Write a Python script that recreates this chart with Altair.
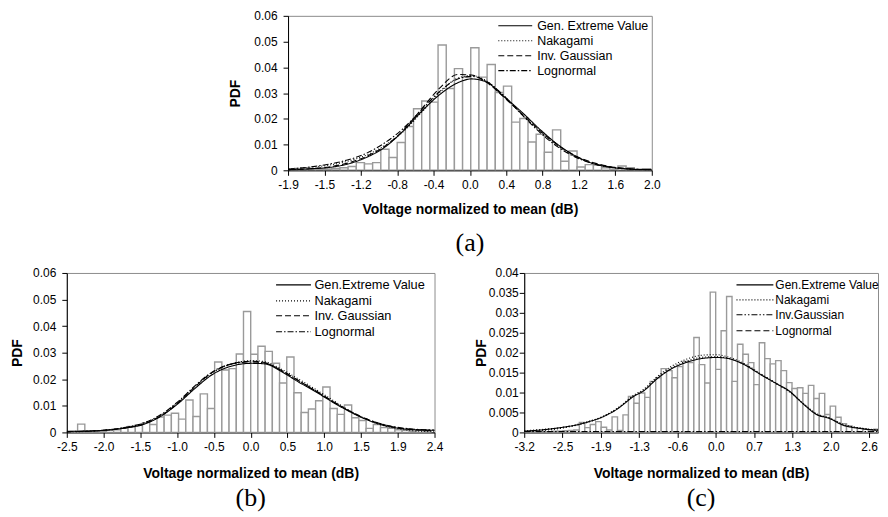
import json
import altair as alt
import pandas as pd

FONT = "Liberation Sans"
SERIF = "Liberation Serif"

# ---------------- panel (a) ----------------
A_BIN_START = -1.914
A_BIN_WIDTH = 0.0889
A_HIST = [0.0003, 0.0003, 0.0002, 0.0003, 0.0005, 0.0007, 0.001, 0.0015, 0.003, 0.0025,
          0.003, 0.0082, 0.005, 0.0108, 0.017, 0.0239, 0.0269, 0.0265, 0.0487, 0.0318,
          0.0395, 0.0362, 0.0476, 0.0362, 0.0411, 0.0302, 0.0327, 0.0187, 0.0201, 0.011,
          0.014, 0.007, 0.0157, 0.0035, 0.0075, 0.0013, 0.0022, 0.002, 0.001, 0.0004,
          0.0017, 0.001, 0.0004, 0.0006]
A_X = [-1.94, -1.7, -1.5, -1.3, -1.1, -0.9, -0.7, -0.5, -0.3, -0.1, 0.05, 0.2, 0.4, 0.6,
       0.8, 1.0, 1.2, 1.4, 1.6, 1.8, 2.01]
A_GEV = [0.0003, 0.0006, 0.0011, 0.0024, 0.0049, 0.0088, 0.015, 0.0226, 0.0293, 0.034, 0.0355,
         0.0345, 0.0287, 0.0225, 0.0157, 0.0097, 0.0052, 0.0023, 0.001, 0.0004, 0.0002]
A_NAK = [0.0006, 0.0012, 0.002, 0.0035, 0.0058, 0.0095, 0.0148, 0.0222, 0.03, 0.0358, 0.0368,
         0.035, 0.029, 0.0218, 0.015, 0.0092, 0.005, 0.0024, 0.001, 0.0004, 0.0001]
A_IG = [0.0002, 0.0006, 0.0013, 0.0028, 0.0053, 0.0092, 0.0152, 0.0235, 0.0318, 0.0372, 0.037,
        0.0345, 0.0285, 0.0218, 0.0152, 0.0095, 0.0053, 0.0027, 0.0012, 0.0005, 0.0002]
A_LN = [0.0005, 0.0013, 0.0024, 0.004, 0.0065, 0.0105, 0.016, 0.0232, 0.0305, 0.0355, 0.0365,
        0.0348, 0.029, 0.0215, 0.0145, 0.0088, 0.0048, 0.0024, 0.0011, 0.0005, 0.0002]
A_NAMES = ["Gen. Extreme Value", "Nakagami", "Inv. Gaussian", "Lognormal"]
A_TICK_LABELS = ["-1.9", "-1.5", "-1.2", "-0.8", "-0.4", "0.0", "0.4", "0.8", "1.2", "1.6", "2.0"]

# ---------------- panel (b) ----------------
B_BIN_START = -2.412
B_BIN_WIDTH = 0.0961
B_HIST = [0.0004, 0.0031, 0.0002, 0.0002, 0.0003, 0.0008, 0.001, 0.0015, 0.0022, 0.0028,
          0.0037, 0.003, 0.0058, 0.0065, 0.0072, 0.005, 0.0122, 0.006, 0.0145, 0.009,
          0.0265, 0.0235, 0.024, 0.0295, 0.0455, 0.0294, 0.0324, 0.0305, 0.026, 0.0186,
          0.0284, 0.0149, 0.0075, 0.0088, 0.0119, 0.0171, 0.009, 0.0068, 0.0103, 0.0055,
          0.0045, 0.0015, 0.003, 0.0018, 0.0015, 0.001, 0.0008, 0.0005, 0.0008, 0.0004]
B_X = [-2.46, -2.2, -1.95, -1.7, -1.45, -1.2, -0.97, -0.75, -0.53, -0.26, 0.0, 0.18, 0.4,
       0.62, 0.85, 1.07, 1.29, 1.51, 1.73, 1.95, 2.17, 2.44]
B_GEV = [0.0004, 0.0005, 0.0008, 0.0016, 0.0029, 0.0062, 0.011, 0.0166, 0.0216, 0.025, 0.026,
         0.0258, 0.0229, 0.0191, 0.0154, 0.0116, 0.0081, 0.0051, 0.0029, 0.0016, 0.001, 0.0008]
B_NAK = [0.0001, 0.0003, 0.0009, 0.0018, 0.0033, 0.0065, 0.0115, 0.0172, 0.0222, 0.0258, 0.027,
         0.0266, 0.0238, 0.0202, 0.0163, 0.0124, 0.0085, 0.0052, 0.0028, 0.0014, 0.0006, 0.0002]
B_IG = [0.0002, 0.0004, 0.0008, 0.0016, 0.0031, 0.0063, 0.0113, 0.0172, 0.0224, 0.0258, 0.0268,
        0.0262, 0.0233, 0.0196, 0.0157, 0.0119, 0.0083, 0.0053, 0.0032, 0.0018, 0.0011, 0.0007]
B_LN = [0.0003, 0.0005, 0.0009, 0.0018, 0.0034, 0.0068, 0.0118, 0.0176, 0.0226, 0.0258, 0.0265,
        0.0261, 0.0233, 0.0196, 0.0158, 0.0119, 0.0083, 0.0053, 0.0032, 0.0019, 0.0012, 0.0009]
B_NAMES = ["Gen.Extreme Value", "Nakagami", "Inv. Gaussian", "Lognormal"]
B_TICK_LABELS = ["-2.5", "-2.0", "-1.5", "-1.0", "-0.5", "0.0", "0.5", "1.0", "1.5", "1.9", "2.4"]

# ---------------- panel (c) ----------------
C_BIN_START = -3.18
C_BIN_WIDTH = 0.0918
C_HIST = [0.0001, 0.0001, 0.0002, 0.0002, 0.0002, 0.0003, 0.0003, 0.0004, 0.0005, 0.0006,
          0.0025, 0.0012, 0.002, 0.0027, 0.0013, 0.0006, 0.0039, 0.0005, 0.0044, 0.009,
          0.0073, 0.0099, 0.0088, 0.0128, 0.0137, 0.016, 0.0155, 0.0137, 0.0165, 0.0178,
          0.0175, 0.0238, 0.017, 0.0124, 0.0352, 0.0158, 0.0255, 0.0341, 0.0128, 0.0221,
          0.0196, 0.0175, 0.012, 0.0225, 0.0185, 0.0172, 0.018, 0.0155, 0.0125, 0.011,
          0.0112, 0.0098, 0.0118, 0.0085, 0.0098, 0.0045, 0.0066, 0.0038, 0.0022, 0.0016,
          0.0012, 0.001, 0.0008, 0.0006, 0.0008, 0.0009]
C_X = [-3.19, -2.85, -2.58, -2.3, -2.1, -1.9, -1.63, -1.34, -1.18, -0.95, -0.73, -0.45, -0.17,
       0.05, 0.22, 0.5, 0.78, 1.06, 1.28, 1.51, 1.73, 1.95, 2.18, 2.46, 2.8]
C_GEV = [0.0003, 0.0007, 0.0012, 0.0019, 0.0027, 0.0037, 0.0058, 0.0091, 0.0104, 0.0135, 0.0158,
         0.0176, 0.0186, 0.0188, 0.0186, 0.0171, 0.0146, 0.0122, 0.0103, 0.0071, 0.0045, 0.0035,
         0.0018, 0.001, 0.0005]
C_NAK = [0.0002, 0.0005, 0.001, 0.0018, 0.0026, 0.0037, 0.006, 0.0094, 0.0108, 0.014, 0.0164,
         0.0184, 0.0194, 0.0195, 0.019, 0.0174, 0.0148, 0.0123, 0.0102, 0.0072, 0.0046, 0.0036,
         0.002, 0.0011, 0.0004]
C_IG = [0.0004, 0.0008, 0.0012, 0.002, 0.0028, 0.0038, 0.0059, 0.0092, 0.0106, 0.0137, 0.016,
        0.0179, 0.0189, 0.019, 0.0187, 0.0172, 0.0147, 0.0121, 0.0101, 0.0072, 0.0047, 0.0036,
        0.002, 0.0011, 0.0006]
C_LN = [0.0002, 0.0002, 0.0002, 0.0002, 0.0002, 0.0002, 0.0002, 0.0002, 0.0002, 0.0002, 0.0002,
        0.0002, 0.0002, 0.0002, 0.0002, 0.0002, 0.0002, 0.0002, 0.0002, 0.0002, 0.0002, 0.0002,
        0.0002, 0.0002, 0.0002]
C_NAMES = ["Gen.Extreme Value", "Nakagami", "Inv.Gaussian", "Lognormal"]
C_TICK_LABELS = ["-3.2", "-2.5", "-1.9", "-1.3", "-0.6", "0.0", "0.7", "1.3", "2.0", "2.6"]

SOLID = [1, 0]
DOT = [1, 2]
DASH = [6, 3]
DASHDOT = [6, 2, 1.5, 2]
DASHDOTDOT = [6, 2, 1.5, 2, 1.5, 2]

XTITLE = "Voltage normalized to mean (dB)"


def panel(cfg):
    W, H = cfg["W"], cfg["H"]
    xmin, xmax = cfg["xdom"]
    step = cfg["tick_step"]
    labels = cfg["tick_labels"]
    ticks = [round(xmin + step * k, 4) for k in range(len(labels))]
    label_expr = f"{json.dumps(labels)}[round((datum.value - ({xmin})) / {step})]"

    xs = alt.Scale(domain=[xmin, xmax], nice=False, zero=False)
    ys = alt.Scale(domain=[0, cfg["ymax"]], nice=False)
    xaxis = alt.Axis(values=ticks, labelExpr=label_expr, title=XTITLE, labelFlush=False,
                     labelOverlap=False, labelBound=False, grid=False, tickSize=5,
                     labelPadding=4, titlePadding=cfg["xtp"])
    yaxis = alt.Axis(values=cfg["yticks"], format=cfg["yfmt"], title="PDF", grid=False,
                     tickSize=5, labelPadding=cfg["ylp"], titlePadding=cfg["ytp"],
                     labelOverlap=False, labelBound=False, labelFlush=False)

    hist = cfg["hist"]
    bars_df = pd.DataFrame({
        "x0": [cfg["bin_start"] + i * cfg["bin_width"] for i in range(len(hist))],
        "x1": [cfg["bin_start"] + (i + 1) * cfg["bin_width"] for i in range(len(hist))],
        "h": hist,
    })
    bars = alt.Chart(bars_df).mark_rect(
        fill="white", stroke="#9a9a9a", strokeWidth=1.4, clip=True
    ).encode(
        x=alt.X("x0:Q", scale=xs, axis=xaxis),
        x2="x1:Q",
        y=alt.Y("h:Q", scale=ys, axis=yaxis),
        y2=alt.datum(0),
    )

    names = cfg["names"]
    rows = []
    for name, ys_vals in zip(names, cfg["curves"]):
        for xv, yv in zip(cfg["cx"], ys_vals):
            rows.append({"x": xv, "y": yv, "name": name})
    cdf = pd.DataFrame(rows)
    lines = alt.Chart(cdf).mark_line(
        color="black", strokeWidth=1.1, interpolate="monotone", clip=True
    ).encode(
        x=alt.X("x:Q", scale=xs, axis=xaxis),
        y=alt.Y("y:Q", scale=ys, axis=yaxis),
        strokeDash=alt.StrokeDash("name:N", scale=alt.Scale(domain=names, range=cfg["dashes"]),
                                  legend=None),
    )

    one = pd.DataFrame({"k": [0]})
    layers = [bars, lines]
    lx1, lx2, tx = cfg["leg_x"]
    for name, dash, py in zip(names, cfg["dashes"], cfg["leg_y"]):
        rule_kw = dict(color="black", strokeWidth=1.1)
        if dash != SOLID:
            rule_kw["strokeDash"] = dash
        layers.append(alt.Chart(one).mark_rule(**rule_kw).encode(
            x=alt.value(lx1), x2=alt.value(lx2), y=alt.value(py)))
        layers.append(alt.Chart(one).mark_text(
            align="left", baseline="middle", font=FONT, fontSize=cfg["leg_fs"], color="black"
        ).encode(x=alt.value(tx), y=alt.value(py), text=alt.value(name)))
    layers.append(alt.Chart(one).mark_text(
        align="center", baseline="middle", font=SERIF, fontSize=26, color="black"
    ).encode(x=alt.value(W / 2), y=alt.value(H + cfg["cap_off"]),
             text=alt.value(cfg["caption"])))

    return alt.layer(*layers).properties(width=W, height=H)


pa = panel(dict(
    W=365, H=155, xdom=[-1.945, 2.01], tick_step=0.3955, tick_labels=A_TICK_LABELS,
    ymax=0.06, yticks=[0, 0.01, 0.02, 0.03, 0.04, 0.05, 0.06], yfmt=".2~f",
    xtp=12, ylp=6, ytp=11,
    hist=A_HIST, bin_start=A_BIN_START, bin_width=A_BIN_WIDTH,
    names=A_NAMES, cx=A_X, curves=[A_GEV, A_NAK, A_IG, A_LN],
    dashes=[SOLID, DOT, DASH, DASHDOT], leg_fs=12.5,
    leg_x=(211, 245, 250), leg_y=[10, 25, 40, 55], caption="(a)", cap_off=73,
))

pb = panel(dict(
    W=369, H=160, xdom=[-2.46, 2.44], tick_step=0.49, tick_labels=B_TICK_LABELS,
    ymax=0.06, yticks=[0, 0.01, 0.02, 0.03, 0.04, 0.05, 0.06], yfmt=".2~f",
    xtp=14, ylp=6, ytp=8,
    hist=B_HIST, bin_start=B_BIN_START, bin_width=B_BIN_WIDTH,
    names=B_NAMES, cx=B_X, curves=[B_GEV, B_NAK, B_IG, B_LN],
    dashes=[SOLID, DOT, DASH, DASHDOT], leg_fs=12.8,
    leg_x=(210, 245, 248.5), leg_y=[12, 28, 43, 59], caption="(b)", cap_off=66,
))

pc = panel(dict(
    W=355, H=160, xdom=[-3.19, 2.766], tick_step=0.645, tick_labels=C_TICK_LABELS,
    ymax=0.04, yticks=[0, 0.005, 0.01, 0.015, 0.02, 0.025, 0.03, 0.035, 0.04], yfmt=".3~f",
    xtp=14, ylp=1, ytp=0,
    hist=C_HIST, bin_start=C_BIN_START, bin_width=C_BIN_WIDTH,
    names=C_NAMES, cx=C_X, curves=[C_GEV, C_NAK, C_IG, C_LN],
    dashes=[SOLID, DOT, DASHDOTDOT, DASH], leg_fs=12,
    leg_x=(213, 250, 252), leg_y=[12, 27, 42, 58], caption="(c)", cap_off=66,
))

spacer = alt.Chart(pd.DataFrame({"k": [0]})).mark_text(text="").encode(
    x=alt.value(0), y=alt.value(0)
).properties(width=161, height=10, view=alt.ViewBackground(stroke="transparent"))

top = alt.hconcat(spacer, pa, spacing=0)
bottom = alt.hconcat(pb, pc, spacing=90, bounds="flush")

chart = alt.vconcat(top, bottom, spacing=9).properties(
    padding={"left": 2, "top": 0, "right": 0, "bottom": 0}
).configure_view(
    stroke="#8c8c8c", strokeWidth=1
).configure_axis(
    labelFont=FONT, titleFont=FONT, labelFontSize=12, titleFontSize=14,
    titleFontWeight="bold", labelColor="black", titleColor="black",
    domainColor="black", tickColor="black", grid=False, labelOverlap=False
)

chart.save("out.html", embed_options={"renderer": "svg", "actions": False})
